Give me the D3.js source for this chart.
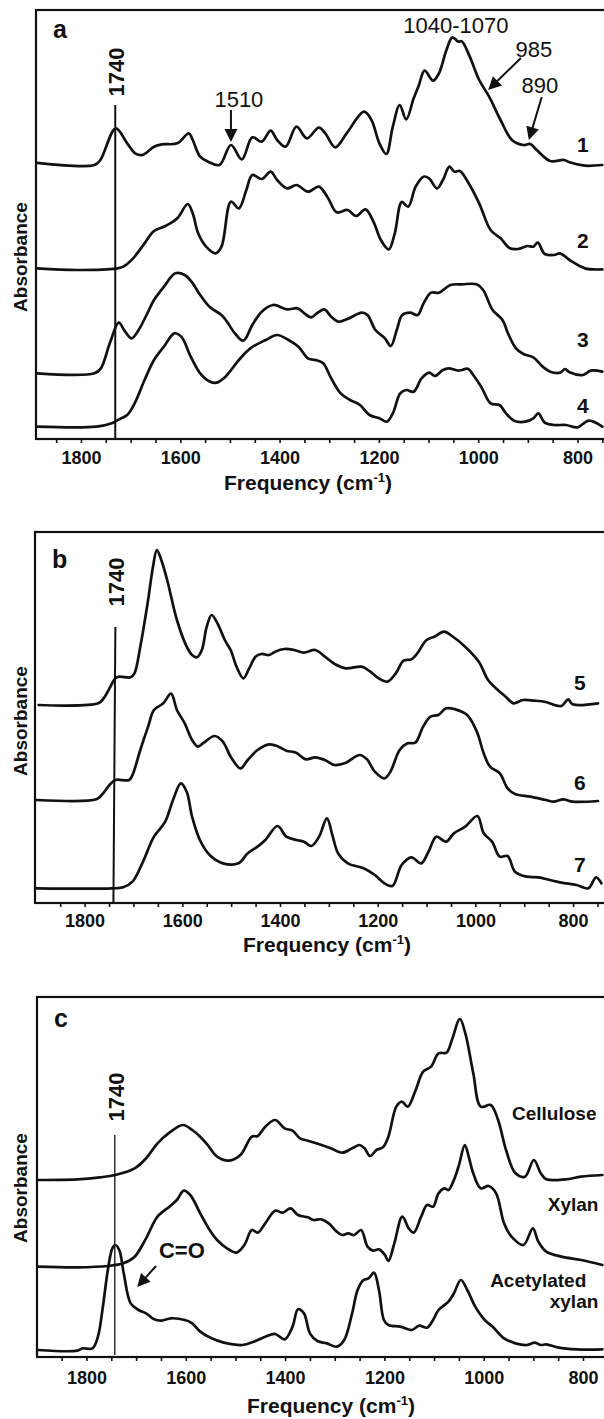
<!DOCTYPE html>
<html><head><meta charset="utf-8">
<script src="https://cdn.jsdelivr.net/npm/d3@7"></script>
<style>body{margin:0;background:#fff}svg{display:block}</style>
</head><body><svg id="c" width="604" height="1419"></svg>
<script>
// ---------- DATA (frequency cm-1, absorbance a.u. incl. offset) ----------
const majorTicks = [1800, 1600, 1400, 1200, 1000, 800];
const minorTicks = d3.range(750, 1901, 50);

const spec1 = [[1891,0.829],[1773,0.822],[1761,0.837],[1730,0.932],[1707,0.887],[1691,0.857],[1676,0.852],[1653,0.877],[1637,0.884],[1606,0.887],[1583,0.917],[1575,0.897],[1560,0.847],[1544,0.832],[1521,0.822],[1498,0.882],[1476,0.839],[1455,0.905],[1436,0.892],[1418,0.925],[1405,0.897],[1388,0.877],[1366,0.937],[1345,0.902],[1321,0.934],[1308,0.917],[1288,0.875],[1265,0.917],[1230,0.982],[1215,0.957],[1199,0.887],[1185,0.855],[1172,0.937],[1158,1.002],[1145,0.959],[1130,1.022],[1120,1.059],[1108,1.105],[1091,1.075],[1079,1.097],[1064,1.167],[1052,1.205],[1040,1.192],[1033,1.193],[1017,1.147],[998,1.077],[978,1.027],[955,0.957],[932,0.897],[909,0.882],[895,0.885],[882,0.867],[855,0.834],[827,0.837],[816,0.830],[785,0.820],[750,0.822]];
const spec2 = [[1891,0.512],[1808,0.507],[1730,0.511],[1715,0.517],[1695,0.542],[1672,0.587],[1653,0.624],[1630,0.639],[1606,0.662],[1585,0.705],[1575,0.677],[1564,0.617],[1548,0.577],[1529,0.557],[1517,0.577],[1498,0.712],[1482,0.692],[1467,0.747],[1455,0.792],[1436,0.780],[1418,0.802],[1405,0.777],[1385,0.752],[1366,0.762],[1343,0.742],[1321,0.757],[1304,0.727],[1285,0.680],[1263,0.687],[1246,0.669],[1227,0.689],[1211,0.652],[1196,0.597],[1180,0.569],[1168,0.617],[1154,0.711],[1141,0.697],[1126,0.757],[1110,0.787],[1099,0.782],[1083,0.752],[1071,0.777],[1058,0.817],[1048,0.802],[1037,0.804],[1021,0.772],[998,0.707],[975,0.627],[955,0.602],[936,0.572],[920,0.570],[901,0.579],[889,0.577],[880,0.589],[866,0.555],[847,0.552],[835,0.557],[816,0.537],[785,0.512],[750,0.509]];
const spec3 = [[1891,0.197],[1773,0.197],[1760,0.212],[1742,0.287],[1724,0.349],[1711,0.322],[1698,0.302],[1684,0.327],[1668,0.372],[1653,0.417],[1633,0.457],[1610,0.497],[1591,0.492],[1575,0.467],[1560,0.432],[1540,0.395],[1517,0.372],[1506,0.352],[1490,0.317],[1473,0.295],[1455,0.342],[1436,0.382],[1413,0.402],[1385,0.389],[1364,0.392],[1350,0.377],[1337,0.365],[1323,0.379],[1310,0.389],[1296,0.367],[1282,0.352],[1265,0.359],[1234,0.379],[1223,0.372],[1207,0.327],[1188,0.302],[1176,0.279],[1164,0.327],[1153,0.372],[1137,0.379],[1122,0.372],[1110,0.407],[1095,0.439],[1079,0.439],[1056,0.462],[1033,0.464],[1003,0.464],[990,0.447],[971,0.387],[951,0.357],[940,0.317],[924,0.272],[909,0.255],[889,0.245],[870,0.217],[855,0.202],[835,0.199],[825,0.210],[816,0.200],[789,0.192],[773,0.205],[750,0.202]];
const spec4 = [[1891,0.037],[1769,0.037],[1738,0.047],[1723,0.059],[1707,0.072],[1692,0.107],[1672,0.177],[1653,0.237],[1633,0.277],[1612,0.317],[1598,0.307],[1579,0.247],[1560,0.197],[1540,0.172],[1527,0.169],[1509,0.187],[1482,0.237],[1459,0.272],[1428,0.297],[1405,0.312],[1382,0.297],[1362,0.277],[1343,0.242],[1323,0.235],[1312,0.227],[1296,0.182],[1277,0.137],[1258,0.117],[1238,0.102],[1219,0.072],[1199,0.062],[1184,0.052],[1172,0.077],[1157,0.137],[1145,0.147],[1130,0.142],[1114,0.182],[1099,0.199],[1087,0.189],[1071,0.207],[1060,0.212],[1040,0.205],[1033,0.207],[1021,0.211],[1010,0.192],[994,0.157],[975,0.107],[957,0.102],[944,0.077],[928,0.055],[905,0.052],[889,0.062],[879,0.077],[866,0.049],[847,0.042],[823,0.042],[800,0.035],[777,0.055],[750,0.037]];
const spec5 = [[1894,0.594],[1772,0.599],[1761,0.614],[1749,0.644],[1737,0.674],[1729,0.679],[1706,0.677],[1698,0.689],[1686,0.769],[1670,0.909],[1660,1.009],[1652,1.059],[1643,1.029],[1631,0.969],[1611,0.849],[1591,0.769],[1580,0.744],[1570,0.737],[1560,0.759],[1550,0.829],[1540,0.864],[1528,0.839],[1513,0.789],[1501,0.759],[1489,0.709],[1475,0.674],[1463,0.704],[1450,0.739],[1438,0.747],[1422,0.744],[1410,0.754],[1391,0.762],[1371,0.759],[1351,0.751],[1328,0.759],[1308,0.739],[1288,0.717],[1265,0.704],[1233,0.709],[1218,0.697],[1198,0.674],[1180,0.664],[1163,0.689],[1147,0.727],[1131,0.731],[1119,0.749],[1100,0.789],[1084,0.799],[1064,0.814],[1048,0.801],[1021,0.769],[993,0.724],[974,0.669],[954,0.639],[938,0.619],[922,0.599],[903,0.609],[879,0.607],[856,0.603],[824,0.591],[810,0.611],[801,0.596],[749,0.599]];
const spec6 = [[1898,0.309],[1776,0.311],[1765,0.324],[1749,0.354],[1737,0.369],[1709,0.369],[1702,0.384],[1686,0.459],[1670,0.529],[1658,0.579],[1639,0.599],[1623,0.628],[1611,0.579],[1595,0.539],[1580,0.489],[1568,0.469],[1556,0.481],[1534,0.501],[1517,0.484],[1501,0.439],[1481,0.404],[1466,0.429],[1446,0.459],[1422,0.476],[1403,0.469],[1387,0.457],[1367,0.451],[1347,0.431],[1328,0.437],[1308,0.429],[1288,0.414],[1265,0.421],[1237,0.444],[1222,0.431],[1206,0.394],[1186,0.374],[1174,0.394],[1155,0.459],[1139,0.479],[1123,0.481],[1107,0.529],[1092,0.559],[1076,0.564],[1060,0.584],[1041,0.581],[1017,0.564],[997,0.514],[983,0.449],[970,0.409],[950,0.389],[934,0.344],[919,0.327],[887,0.319],[856,0.309],[840,0.304],[820,0.311],[801,0.304],[749,0.306]];
const spec7 = [[1898,0.044],[1745,0.044],[1721,0.047],[1702,0.064],[1682,0.119],[1658,0.199],[1635,0.244],[1619,0.309],[1603,0.359],[1591,0.334],[1580,0.259],[1564,0.189],[1544,0.144],[1517,0.119],[1485,0.119],[1466,0.149],[1446,0.169],[1430,0.189],[1405,0.231],[1387,0.199],[1367,0.189],[1351,0.184],[1336,0.171],[1320,0.199],[1304,0.254],[1292,0.199],[1281,0.149],[1261,0.119],[1229,0.104],[1206,0.084],[1186,0.059],[1170,0.051],[1151,0.114],[1131,0.137],[1111,0.119],[1096,0.154],[1080,0.199],[1060,0.184],[1044,0.209],[1021,0.229],[996,0.261],[983,0.209],[966,0.184],[950,0.139],[934,0.141],[919,0.094],[895,0.079],[871,0.077],[848,0.069],[824,0.061],[793,0.054],[769,0.044],[753,0.077],[742,0.059]];
const cellulose = [[1898,0.531],[1819,0.533],[1773,0.539],[1742,0.546],[1703,0.566],[1680,0.596],[1657,0.641],[1633,0.673],[1606,0.696],[1587,0.681],[1571,0.661],[1556,0.636],[1537,0.601],[1513,0.589],[1490,0.606],[1467,0.661],[1455,0.663],[1440,0.691],[1420,0.711],[1401,0.686],[1385,0.679],[1370,0.656],[1354,0.649],[1331,0.638],[1308,0.626],[1285,0.613],[1265,0.626],[1250,0.636],[1240,0.626],[1229,0.603],[1216,0.621],[1203,0.629],[1192,0.661],[1176,0.751],[1165,0.766],[1153,0.751],[1137,0.801],[1122,0.856],[1106,0.871],[1091,0.911],[1075,0.913],[1064,0.951],[1048,1.014],[1037,0.971],[1021,0.851],[1006,0.751],[986,0.756],[971,0.711],[955,0.621],[936,0.551],[917,0.541],[899,0.591],[885,0.551],[874,0.533],[835,0.533],[804,0.541],[761,0.546]];
const xylan = [[1898,0.271],[1819,0.269],[1757,0.273],[1726,0.281],[1703,0.301],[1680,0.356],[1657,0.421],[1633,0.451],[1618,0.471],[1604,0.499],[1591,0.486],[1571,0.431],[1552,0.381],[1537,0.351],[1517,0.326],[1498,0.313],[1482,0.336],[1467,0.381],[1455,0.373],[1440,0.401],[1420,0.439],[1405,0.433],[1389,0.446],[1374,0.426],[1354,0.419],[1343,0.411],[1327,0.413],[1312,0.401],[1296,0.376],[1285,0.366],[1273,0.371],[1261,0.366],[1247,0.381],[1234,0.331],[1223,0.319],[1211,0.323],[1199,0.306],[1192,0.288],[1180,0.341],[1164,0.421],[1151,0.386],[1141,0.373],[1126,0.421],[1114,0.456],[1102,0.451],[1091,0.491],[1079,0.506],[1071,0.501],[1060,0.531],[1050,0.575],[1038,0.636],[1030,0.600],[1021,0.551],[1006,0.506],[990,0.513],[975,0.491],[959,0.401],[944,0.361],[920,0.336],[901,0.386],[890,0.346],[874,0.316],[843,0.301],[804,0.291],[761,0.276]];
const acetylatedXylan = [[1898,0.021],[1819,0.019],[1808,0.026],[1788,0.026],[1777,0.061],[1767,0.151],[1757,0.261],[1748,0.326],[1742,0.336],[1734,0.321],[1725,0.251],[1711,0.161],[1695,0.141],[1680,0.131],[1664,0.113],[1649,0.109],[1630,0.116],[1602,0.111],[1587,0.101],[1571,0.076],[1548,0.056],[1525,0.044],[1486,0.036],[1463,0.046],[1440,0.061],[1420,0.069],[1401,0.053],[1385,0.091],[1374,0.143],[1362,0.131],[1350,0.071],[1335,0.048],[1316,0.041],[1296,0.031],[1281,0.051],[1265,0.131],[1254,0.201],[1242,0.231],[1232,0.236],[1221,0.253],[1211,0.201],[1201,0.111],[1192,0.096],[1168,0.091],[1145,0.081],[1130,0.094],[1114,0.088],[1102,0.111],[1091,0.141],[1071,0.166],[1060,0.191],[1046,0.231],[1033,0.201],[1017,0.151],[998,0.111],[982,0.091],[959,0.056],[936,0.041],[913,0.036],[897,0.043],[885,0.036],[874,0.038],[851,0.029],[812,0.023],[761,0.023]];

// series labels and annotations, in data coordinates (freq, absorbance)
const labelsA = [['1',789,0.861],['2',789,0.573],['3',789,0.276],['4',789,0.078]];
const labelsB = [['5',786,0.639],['6',786,0.339],['7',786,0.093]];
const labelsC = [['Cellulose',943,0.711],['Xylan',871,0.438],['Acetylated',987,0.210],['xylan',867,0.147]];
const notesA = [['1510',1482,0.996],['1040-1070',1045,1.218],['985',888,1.146],['890',876,1.038]];
const arrowsA = [[[1498,0.987],[1498,0.891]],[[914,1.143],[980,1.047]],[[872,1.026],[898,0.897]]];
const notesC = [['C=O',1608,0.297]];
const arrowsC = [[[1660,0.273],[1698,0.210]]];

// ---------- LAYOUT ----------
const FONT = '"Liberation Sans", Arial, Helvetica, sans-serif';
const INK = '#111';
const panels = [
  {letter:'a', left:36, top:10, bottom:439, x1800:81, k:0.4965, ymax:1.287, labOff:25, titleX:308, titleY:490, absY:257, letterY:38,
   series:[spec1,spec2,spec3,spec4], ref:[[1731,1.002],[1731,0]], refText:1.101, labels:labelsA, anchor:'middle', notes:notesA, arrows:arrowsA, refW:2},
  {letter:'b', left:35, top:532, bottom:903, x1800:84.6, k:0.4885, ymax:1.113, labOff:24, titleX:327, titleY:952, absY:721, letterY:568,
   series:[spec5,spec6,spec7], ref:[[1737,0.828],[1741,0]], refText:0.963, labels:labelsB, anchor:'middle', notes:[], arrows:[], refW:2},
  {letter:'c', left:37, top:997, bottom:1357, x1800:86.5, k:0.4965, ymax:1.08, labOff:27, titleX:331, titleY:1413, absY:1188, letterY:1027,
   series:[cellulose,xylan,acetylatedXylan], ref:[[1743,0.666],[1743,0.006]], refText:0.78, labels:labelsC, anchor:'start', notes:notesC, arrows:arrowsC, refW:1.3}
];

const svg = d3.select('#c');
const defs = svg.append('defs');

function arrow(g, p0, p1){
  const dx = p1[0]-p0[0], dy = p1[1]-p0[1], L = Math.hypot(dx,dy);
  const ux = dx/L, uy = dy/L, hl = 13, hw = 6.5;
  const bx = p1[0]-ux*hl, by = p1[1]-uy*hl;
  g.append('line').attr('x1',p0[0]).attr('y1',p0[1]).attr('x2',bx+ux*2).attr('y2',by+uy*2)
    .attr('stroke',INK).attr('stroke-width',2);
  g.append('path').attr('d',`M${p1[0]},${p1[1]}L${bx-uy*hw},${by+ux*hw}L${bx+uy*hw},${by-ux*hw}Z`).attr('fill',INK);
}

panels.forEach((p,i) => {
  const x = d3.scaleLinear().domain([1800, 800]).range([p.x1800, p.x1800 + 1000*p.k]);
  const y = d3.scaleLinear().domain([0, p.ymax]).range([p.bottom, p.top]);
  const g = svg.append('g');

  defs.append('clipPath').attr('id','clip'+i).append('rect')
    .attr('x',p.left+1).attr('y',p.top+1).attr('width',620-p.left).attr('height',p.bottom-p.top-2);

  // axis
  const ax = g.append('g').attr('transform',`translate(0,${p.bottom})`)
    .call(d3.axisBottom(x).tickValues(minorTicks.filter(v => x(v) > p.left+2 && x(v) < 604))
      .tickSize(4).tickFormat(d => majorTicks.includes(d) ? d : ''));
  ax.select('.domain').remove();
  ax.selectAll('line').attr('stroke',INK).attr('stroke-width',1.6);
  ax.selectAll('text').attr('y',p.labOff).attr('dy',0).attr('fill',INK)
    .style('font-family',FONT).style('font-size','18px').style('font-weight','bold');

  // frame
  g.append('rect').attr('x',p.left).attr('y',p.top).attr('width',640-p.left).attr('height',p.bottom-p.top)
    .attr('fill','none').attr('stroke',INK).attr('stroke-width',2.2);

  // spectra
  const line = d3.line().x(d=>x(d[0])).y(d=>y(d[1])).curve(d3.curveCatmullRom.alpha(0.5));
  const cg = g.append('g').attr('clip-path',`url(#clip${i})`);
  cg.selectAll('path.s').data(p.series).join('path').attr('class','s').attr('d',line)
    .attr('fill','none').attr('stroke',INK).attr('stroke-width',2.7).attr('stroke-linejoin','round').attr('stroke-linecap','round');

  // 1740 reference line
  cg.append('line').attr('x1',x(p.ref[0][0])).attr('y1',y(p.ref[0][1])).attr('x2',x(p.ref[1][0])).attr('y2',y(p.ref[1][1]))
    .attr('stroke',INK).attr('stroke-width',p.refW);
  g.append('text').attr('transform',`translate(${x(p.ref[0][0])+9},${y(p.refText)}) rotate(-90)`)
    .attr('text-anchor','middle').attr('fill',INK)
    .style('font-family',FONT).style('font-size','22px').style('font-weight','bold').text('1740');

  // panel letter
  g.append('text').attr('x',p.left+17).attr('y',p.letterY).attr('fill',INK)
    .style('font-family',FONT).style('font-size','25px').style('font-weight','bold').text(p.letter);

  // series labels
  g.selectAll('text.lab').data(p.labels).join('text').attr('class','lab')
    .attr('x',d=>x(d[1])).attr('y',d=>y(d[2])).attr('text-anchor',p.anchor).attr('fill',INK)
    .style('font-family',FONT).style('font-size', p.letter==='c' ? '19px' : '21px').style('font-weight','bold').text(d=>d[0]);

  // annotations
  g.selectAll('text.note').data(p.notes).join('text').attr('class','note')
    .attr('x',d=>x(d[1])).attr('y',d=>y(d[2])).attr('text-anchor','middle').attr('fill',INK)
    .style('font-family',FONT).style('font-size','22px')
    .style('font-weight', p.letter==='c' ? 'bold' : 'normal').text(d=>d[0]);
  p.arrows.forEach(a => arrow(g, [x(a[0][0]),y(a[0][1])], [x(a[1][0]),y(a[1][1])]));

  // x title
  const t = g.append('text').attr('x',p.titleX).attr('y',p.titleY).attr('text-anchor','middle').attr('fill',INK)
    .style('font-family',FONT).style('font-size','21px').style('font-weight','bold');
  t.append('tspan').text('Frequency (cm');
  t.append('tspan').attr('dy',-8).style('font-size','13px').text('-1');
  t.append('tspan').attr('dy',8).text(')');

  // y title
  g.append('text').attr('transform',`translate(27,${p.absY}) rotate(-90)`).attr('text-anchor','middle').attr('fill',INK)
    .style('font-family',FONT).style('font-size','19px').style('font-weight','bold').text('Absorbance');
});
</script></body></html>
